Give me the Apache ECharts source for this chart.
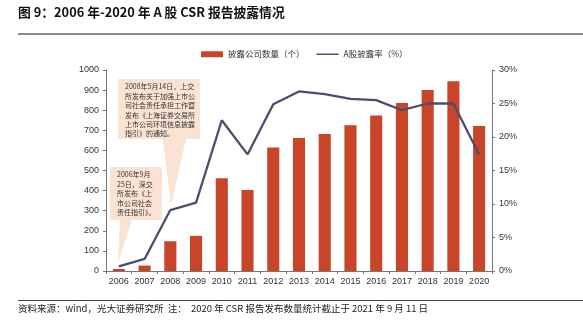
<!DOCTYPE html>
<html><head><meta charset="utf-8">
<script src="https://cdn.jsdelivr.net/npm/echarts@6/dist/echarts.min.js"></script>
<style>html,body{margin:0;padding:0;background:#fff}#c{width:583px;height:334px}</style>
</head><body><div id="c"></div>
<script>
var years = ['2006','2007','2008','2009','2010','2011','2012','2013','2014','2015','2016','2017','2018','2019','2020'];
var companyCount = [10, 27, 148, 175, 461, 403, 615, 662, 682, 725, 774, 836, 900, 944, 721];
var disclosureRate = [0.7, 1.8, 9.1, 10.2, 22.5, 17.4, 24.9, 26.8, 26.4, 25.7, 25.5, 24.0, 25.0, 25.0, 17.4];
var leftTicks = [0, 100, 200, 300, 400, 500, 600, 700, 800, 900, 1000];
var rightTicks = [0, 5, 10, 15, 20, 25, 30];
var seriesNames = ['披露公司数量（个）', 'A股披露率（%）'];
var titleText = '图 9：2006 年-2020 年 A 股 CSR 报告披露情况';
var sourceText = '资料来源：wind，光大证券研究所  注：  2020 年 CSR 报告发布数量统计截止于 2021 年 9 月 11 日';
var note1 = '2008年5月14日，上交\n所发布关于加强上市公\n司社会责任承担工作暨\n发布《上海证券交易所\n上市公司环境信息披露\n指引》的通知。';
var note2 = '2006年9月\n25日，深交\n所发布《上\n市公司社会\n责任指引》。';

var FONT = '"Noto Sans CJK SC", "Liberation Sans", sans-serif';
var NUMFONT = '"Liberation Sans", Arial, sans-serif';
var barColor = '#C8452A';
var lineColor = '#4E4C70';
var boxColor = '#FBE3D3';
var axisColor = '#777';

var chart = echarts.init(document.getElementById('c'));
chart.setOption({
  animation: false,
  textStyle: {fontFamily: FONT},
  grid: {left: 106, right: 91, top: 70, bottom: 63},
  legend: {
    top: 45, left: 196, itemGap: 12, itemWidth: 22, itemHeight: 6,
    textStyle: {fontSize: 8.5, color: '#333', fontFamily: FONT},
    data: [
      {name: seriesNames[0], icon: 'rect'},
      {name: seriesNames[1], icon: 'path://M0,0L0,0Z M0,2.3H22V3.7H0Z M22,6L22,6Z'}
    ]
  },
  xAxis: {
    type: 'category', data: years,
    axisLine: {lineStyle: {color: axisColor}},
    axisTick: {show: true, length: 3, lineStyle: {color: axisColor}},
    axisLabel: {fontSize: 9, fontFamily: NUMFONT, color: '#333', margin: 6, interval: 0}
  },
  yAxis: [{
    type: 'value', min: 0, max: 1000, interval: 100,
    axisLine: {show: true, lineStyle: {color: axisColor}},
    axisTick: {show: true, length: 3, lineStyle: {color: axisColor}},
    splitLine: {show: false},
    axisLabel: {fontSize: 9, fontFamily: NUMFONT, color: '#333', margin: 7, formatter: function (v) { return String(v); }}
  }, {
    type: 'value', min: 0, max: 30, interval: 5,
    axisLine: {show: true, lineStyle: {color: axisColor}},
    axisTick: {show: true, length: 3, lineStyle: {color: axisColor}},
    splitLine: {show: false},
    axisLabel: {fontSize: 9, fontFamily: NUMFONT, color: '#333', margin: 7, formatter: '{value}%'}
  }],
  series: [{
    name: seriesNames[0], type: 'bar', data: companyCount, barWidth: '47%',
    itemStyle: {color: barColor}
  }, {
    name: seriesNames[1], type: 'line', yAxisIndex: 1, data: disclosureRate,
    symbol: 'none', lineStyle: {color: lineColor, width: 2.3}, itemStyle: {color: lineColor}
  }],
  graphic: [
    {type: 'text', left: 18, top: 6, style: {text: titleText, font: 'bold 12.8px ' + FONT, fill: '#111'}},
    {type: 'rect', shape: {x: 18, y: 33, width: 565, height: 2}, style: {fill: '#8c8c8c'}},
    {type: 'rect', shape: {x: 18, y: 300, width: 565, height: 1}, style: {fill: '#444'}},
    {type: 'text', left: 18, top: 304, style: {text: sourceText, font: '9.5px ' + FONT, fill: '#222'}},
    {type: 'polygon', z: 10, shape: {points: [[118,79],[200,79],[200,139],[186,139],[171,206],[163,139],[118,139]]}, style: {fill: boxColor}},
    {type: 'text', z: 11, left: 125, top: 82, style: {text: note1, font: '7px ' + FONT, fill: '#333', lineHeight: 9.4}},
    {type: 'polygon', z: 10, shape: {points: [[110,167],[162,167],[162,220],[132,220],[118,263],[120,220],[110,220]]}, style: {fill: boxColor}},
    {type: 'text', z: 11, left: 117, top: 170, style: {text: note2, font: '7px ' + FONT, fill: '#333', lineHeight: 9.4}}
  ]
});
</script>
</body></html>
